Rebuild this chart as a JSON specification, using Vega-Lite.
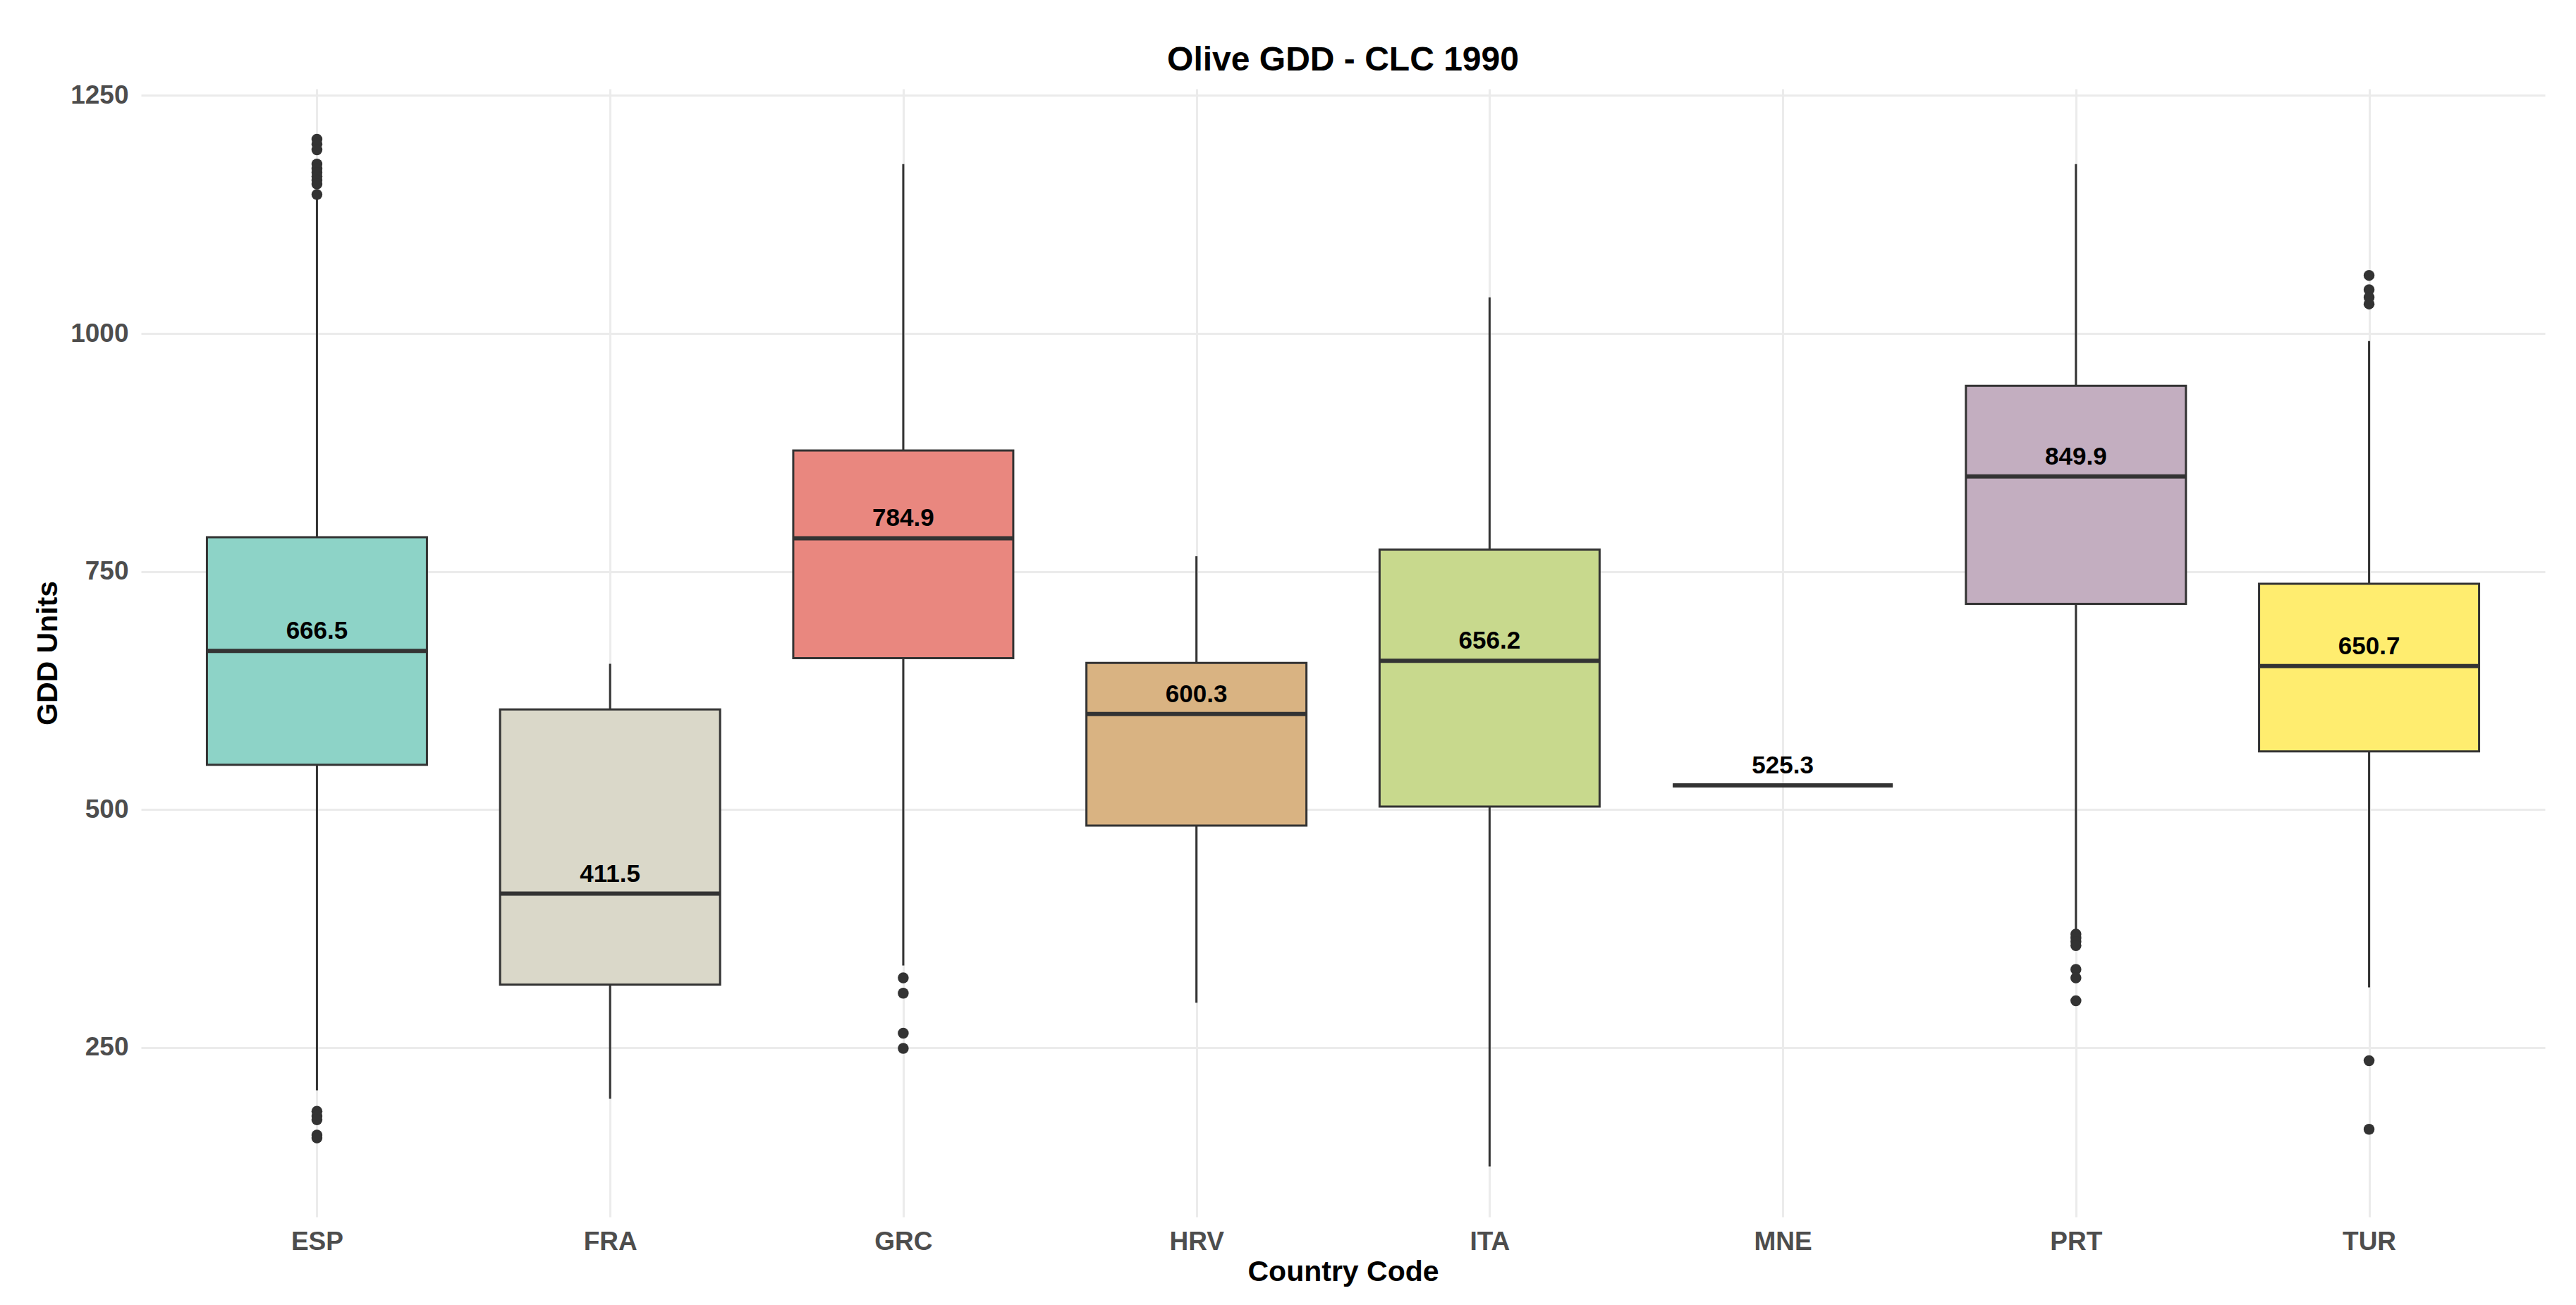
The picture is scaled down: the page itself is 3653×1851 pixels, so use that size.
{
  "$schema": "https://vega.github.io/schema/vega-lite/v6.json",
  "autosize": {"type": "none"},
  "width": 3409,
  "height": 1600,
  "padding": {"left": 200, "top": 126, "right": 44, "bottom": 125},
  "background": "white",
  "title": {
    "text": "Olive GDD - CLC 1990",
    "fontSize": 48,
    "fontWeight": "bold",
    "color": "#000000",
    "anchor": "middle",
    "offset": 6
  },
  "datasets": {
    "stats": [
      {"country": "ESP", "lower": 205, "q1": 547, "median": 666.5, "q3": 786, "upper": 1141},
      {"country": "FRA", "lower": 196, "q1": 316, "median": 411.5, "q3": 605, "upper": 653},
      {"country": "GRC", "lower": 336, "q1": 659, "median": 784.9, "q3": 877, "upper": 1178},
      {"country": "HRV", "lower": 297, "q1": 483, "median": 600.3, "q3": 654, "upper": 766},
      {"country": "ITA", "lower": 125, "q1": 503, "median": 656.2, "q3": 773, "upper": 1038},
      {"country": "MNE", "lower": 525.3, "q1": 525.3, "median": 525.3, "q3": 525.3, "upper": 525.3},
      {"country": "PRT", "lower": 374, "q1": 716, "median": 849.9, "q3": 945, "upper": 1178},
      {"country": "TUR", "lower": 313, "q1": 561, "median": 650.7, "q3": 737, "upper": 992}
    ],
    "outliers": [
      {"country": "ESP", "gdd": 1204},
      {"country": "ESP", "gdd": 1199},
      {"country": "ESP", "gdd": 1193},
      {"country": "ESP", "gdd": 1178},
      {"country": "ESP", "gdd": 1173},
      {"country": "ESP", "gdd": 1169},
      {"country": "ESP", "gdd": 1165},
      {"country": "ESP", "gdd": 1161},
      {"country": "ESP", "gdd": 1157},
      {"country": "ESP", "gdd": 1146},
      {"country": "ESP", "gdd": 183},
      {"country": "ESP", "gdd": 178},
      {"country": "ESP", "gdd": 174},
      {"country": "ESP", "gdd": 158},
      {"country": "ESP", "gdd": 155},
      {"country": "GRC", "gdd": 323},
      {"country": "GRC", "gdd": 307},
      {"country": "GRC", "gdd": 265},
      {"country": "GRC", "gdd": 249},
      {"country": "PRT", "gdd": 369},
      {"country": "PRT", "gdd": 365},
      {"country": "PRT", "gdd": 361},
      {"country": "PRT", "gdd": 357},
      {"country": "PRT", "gdd": 332},
      {"country": "PRT", "gdd": 323},
      {"country": "PRT", "gdd": 299},
      {"country": "TUR", "gdd": 1061},
      {"country": "TUR", "gdd": 1046},
      {"country": "TUR", "gdd": 1038},
      {"country": "TUR", "gdd": 1031},
      {"country": "TUR", "gdd": 236},
      {"country": "TUR", "gdd": 164}
    ]
  },
  "encoding": {
    "x": {
      "field": "country",
      "type": "nominal",
      "sort": ["ESP", "FRA", "GRC", "HRV", "ITA", "MNE", "PRT", "TUR"],
      "scale": {"type": "point", "padding": 0.6},
      "axis": {
        "title": "Country Code",
        "labelAngle": 0,
        "labelFontSize": 37,
        "labelFontWeight": "bold",
        "labelColor": "#4D4D4D",
        "labelPadding": 17,
        "titleFontSize": 41,
        "titleFontWeight": "bold",
        "titleColor": "#000000",
        "titlePadding": 5,
        "domain": false,
        "ticks": false,
        "grid": true,
        "gridColor": "#EBEBEB",
        "gridWidth": 3
      }
    }
  },
  "layer": [
    {
      "data": {"name": "stats"},
      "mark": {"type": "rule", "stroke": "#333333", "strokeWidth": 3},
      "encoding": {
        "y": {
          "field": "lower",
          "type": "quantitative",
          "scale": {"domain": [72, 1257], "nice": false, "zero": false},
          "axis": {
            "title": "GDD Units",
            "values": [250, 500, 750, 1000, 1250],
            "format": "d",
            "labelFontSize": 37,
            "labelFontWeight": "bold",
            "labelColor": "#4D4D4D",
            "labelPadding": 18,
            "titleFontSize": 41,
            "titleFontWeight": "bold",
            "titleColor": "#000000",
            "titlePadding": 10,
            "domain": false,
            "ticks": false,
            "grid": true,
            "gridColor": "#EBEBEB",
            "gridWidth": 3
          }
        },
        "y2": {"field": "upper"}
      }
    },
    {
      "data": {"name": "stats"},
      "mark": {"type": "bar", "width": 312, "stroke": "#333333", "strokeWidth": 3, "opacity": 1},
      "encoding": {
        "y": {"field": "q1", "type": "quantitative"},
        "y2": {"field": "q3"},
        "fill": {
          "field": "country",
          "type": "nominal",
          "scale": {
            "domain": ["ESP", "FRA", "GRC", "HRV", "ITA", "MNE", "PRT", "TUR"],
            "range": ["#8DD3C7", "#DAD8C9", "#E9877F", "#D9B382", "#C8D98D", "#C08DC1", "#C3AEC0", "#FFED6F"]
          },
          "legend": null
        }
      }
    },
    {
      "data": {"name": "stats"},
      "mark": {"type": "tick", "color": "#333333", "thickness": 6, "size": 312, "opacity": 1},
      "encoding": {
        "y": {"field": "median", "type": "quantitative"}
      }
    },
    {
      "data": {"name": "outliers"},
      "mark": {"type": "circle", "color": "#333333", "size": 240, "opacity": 1},
      "encoding": {
        "y": {"field": "gdd", "type": "quantitative"}
      }
    },
    {
      "data": {"name": "stats"},
      "mark": {"type": "text", "fontSize": 35, "fontWeight": "bold", "color": "#000000", "baseline": "alphabetic", "align": "center", "dy": -17},
      "encoding": {
        "y": {"field": "median", "type": "quantitative"},
        "text": {"field": "median", "type": "quantitative", "format": ".1f"}
      }
    }
  ],
  "config": {
    "font": "Liberation Sans",
    "view": {"stroke": null}
  }
}
